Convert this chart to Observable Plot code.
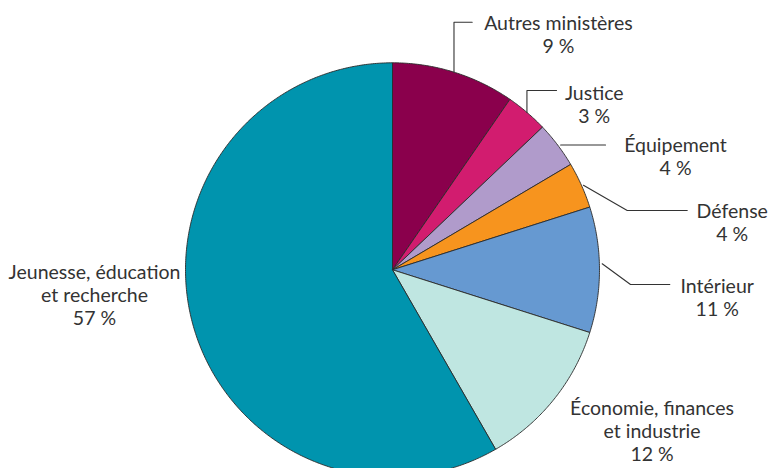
<!DOCTYPE html>
<html><head><meta charset="utf-8">
<script src="https://cdn.jsdelivr.net/npm/d3@7"></script>
<script src="https://cdn.jsdelivr.net/npm/@observablehq/plot@0.6"></script>
<style>html,body{margin:0;padding:0;background:#fff}</style></head>
<body><div id="chart"></div>
<script>
// ---- data ----
const categories = ["Autres ministères","Justice","Équipement","Défense","Intérieur","Économie, finances et industrie","Jeunesse, éducation et recherche"];
const shares = [9.6, 3.3, 3.6, 3.6, 9.8, 11.8, 58.3];
const labelNames = ["Autres ministères","Justice","Équipement","Défense","Intérieur","Économie, finances\net industrie","Jeunesse, éducation\net recherche"];
const percentLabels = ["9 %","3 %","4 %","4 %","11 %","12 %","57 %"];
const colors = ["#8a004c","#d21c6f","#b09bcb","#f7941e","#6699d1","#bfe6e1","#0094ae"];

// ---- layout ----
const W = 770, H = 468, R = 207, CX = 392, CY = 269.3, FS = 19.5;
const xDomain = [-CX / R, (W - CX) / R];
const yDomain = [-(H - CY) / R, CY / R];
const px = v => v / R; // pixel offset -> pie units

// label layout: offsets in px from the slice's rim anchor (mid angle)
const layout = [
  {tx: 104.5, ty: -44.9, leader: [[0, 0], [0, -49.9], [18.2, -49.9]]},
  {tx: 67.3,  ty: -15.2, leader: [[0, 0], [0, -21.9], [29.6, -21.9]]},
  {tx: 117.9, ty: 4.8,   leader: [[3, 0], [47.9, 0]]},
  {tx: 150.8, ty: 30.3,  leader: [[2, 0], [45.8, 25.3], [105.8, 25.3]]},
  {tx: 117.7, ty: 20.7,  leader: [[2.7, -6], [31, 14.7], [70.3, 14.7]]},
  {tx: 98.4,  ty: 13,    leader: null},
  {tx: -98,   ty: -46.2, leader: null}
];

const total = d3.sum(shares);
let acc = 0;
const slices = categories.map((c, i) => {
  const a0 = acc / total * 2 * Math.PI; acc += shares[i];
  const a1 = acc / total * 2 * Math.PI;
  const mid = (a0 + a1) / 2;
  return {category: c, i, a0, a1, ax: Math.sin(mid), ay: Math.cos(mid)};
});

const piePts = [];
for (const s of slices) {
  piePts.push({category: s.category, x: 0, y: 0});
  const n = Math.max(2, Math.ceil((s.a1 - s.a0) / (Math.PI / 360)));
  for (let k = 0; k <= n; k++) {
    const a = s.a0 + (s.a1 - s.a0) * k / n;
    piePts.push({category: s.category, x: Math.sin(a), y: Math.cos(a)});
  }
  piePts.push({category: s.category, x: 0, y: 0});
}

const leaderPts = [];
const textData = [];
slices.forEach((s, i) => {
  const L = layout[i];
  if (L.leader) L.leader.forEach(([dx, dy]) => leaderPts.push({category: s.category, x: s.ax + px(dx), y: s.ay - px(dy)}));
  textData.push({
    text: labelNames[i] + "\n" + percentLabels[i],
    x: s.ax + px(L.tx),
    y: s.ay - px(L.ty - 0.71 * FS)
  });
});

const chart = Plot.plot({
  width: W, height: H,
  margin: 0,
  x: {domain: xDomain, axis: null},
  y: {domain: yDomain, axis: null},
  color: {domain: categories, range: colors},
  style: {fontFamily: "Lato, sans-serif", background: "#fff"},
  marks: [
    Plot.line(piePts, {x: "x", y: "y", z: "category", fill: "category", stroke: "#2a2a2a", strokeWidth: 0.9, strokeLinejoin: "round", curve: "linear"}),
    Plot.line(leaderPts, {x: "x", y: "y", z: "category", stroke: "#333", strokeWidth: 1.1}),
    Plot.text(textData, {x: "x", y: "y", text: "text", textAnchor: "middle", lineAnchor: "top", lineHeight: 23 / FS, fontSize: FS, fill: "#333"})
  ]
});
document.getElementById("chart").appendChild(chart);
</script>
</body></html>
